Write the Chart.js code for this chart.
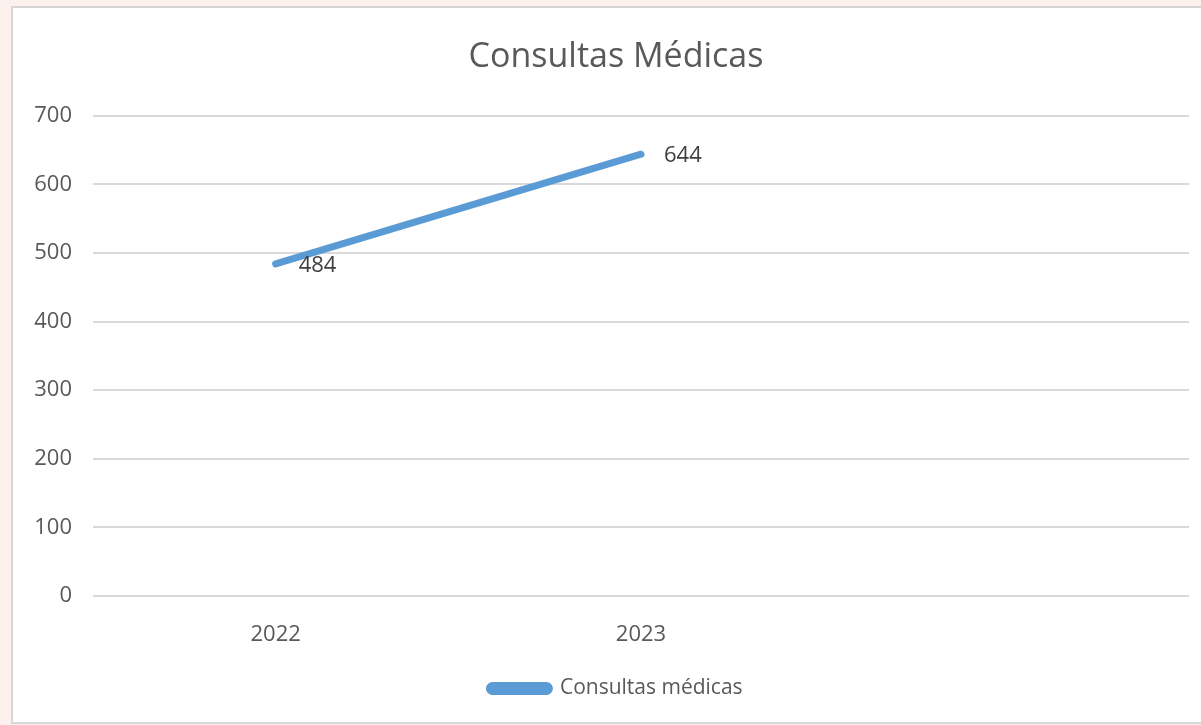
<!DOCTYPE html>
<html>
<head>
<meta charset="utf-8">
<script src="https://cdn.jsdelivr.net/npm/chart.js@4"></script>
<style>
    html, body { margin: 0; padding: 0; background: #fcf1ed; }
    #wrap { position: relative; width: 1201px; height: 725px; overflow: hidden; }
    #card {
        position: absolute; left: 11px; top: 6px; width: 1200px; height: 714px;
        background: #ffffff; border: 2px solid #d6d6d6; border-right: none;
    }
    #chart { position: absolute; left: 0; top: 0; }
</style>
</head>
<body>
<div id="wrap">
    <div id="card"></div>
    <canvas id="chart" width="1201" height="725"></canvas>
</div>
<script>
const years = ['2022', '2023', ''];
const consultas = [484, 644, null];
const yTicks = [0, 100, 200, 300, 400, 500, 600, 700];

const fontFamily = '"Open Sans", "Noto Sans", sans-serif';
const lineColor = '#5b9bd5';

// value labels next to each point
const pointLabels = {
    id: 'pointLabels',
    afterDatasetsDraw(chart) {
        const ctx = chart.ctx;
        const meta = chart.getDatasetMeta(0);
        ctx.save();
        ctx.font = '22px ' + fontFamily;
        ctx.fillStyle = '#404040';
        ctx.textAlign = 'left';
        ctx.textBaseline = 'middle';
        meta.data.forEach((pt, i) => {
            const v = consultas[i];
            if (v === null || v === undefined) return;
            ctx.fillText(String(v), pt.x + 23, pt.y + 2);
        });
        ctx.restore();
    }
};

// y tick labels drawn unclipped (the axis box is narrower than the labels)
const yLabels = {
    id: 'yLabels',
    afterDraw(chart) {
        const ctx = chart.ctx;
        const scale = chart.scales.y;
        ctx.save();
        ctx.font = '22px ' + fontFamily;
        ctx.fillStyle = '#595959';
        ctx.textAlign = 'right';
        ctx.textBaseline = 'middle';
        scale.ticks.forEach(t => {
            ctx.fillText(String(t.value), scale.right - 21, scale.getPixelForValue(t.value));
        });
        ctx.restore();
    }
};

const chart = new Chart(document.getElementById('chart'), {
    type: 'line',
    data: {
        labels: years,
        datasets: [{
            label: 'Consultas médicas',
            data: consultas,
            borderColor: lineColor,
            backgroundColor: lineColor,
            borderWidth: 7,
            borderCapStyle: 'round',
            borderRadius: 3,
            pointRadius: 0,
            pointHoverRadius: 0,
            fill: false,
            tension: 0
        }]
    },
    options: {
        responsive: false,
        animation: false,
        layout: { padding: { left: 43, right: 12, top: 0, bottom: 16 } },
        scales: {
            x: {
                offset: true,
                grid: { display: false },
                border: { display: false },
                afterFit: scale => { scale.height = 72; },
                ticks: { color: '#595959', font: { family: fontFamily, size: 22 }, padding: 18 }
            },
            y: {
                min: 0,
                max: 700,
                afterBuildTicks: scale => { scale.ticks = yTicks.map(v => ({ value: v })); },
                afterFit: scale => { scale.width = 50; },
                grid: { color: '#d9d9d9', lineWidth: 2, drawTicks: false },
                border: { display: false },
                ticks: { display: false }
            }
        },
        plugins: {
            title: {
                display: true,
                text: 'Consultas Médicas',
                color: '#595959',
                font: { family: fontFamily, size: 34, weight: 'normal' },
                padding: { top: 37, bottom: 38 }
            },
            legend: {
                position: 'bottom',
                labels: {
                    color: '#595959',
                    font: { family: fontFamily, size: 21 },
                    boxWidth: 60,
                    boxHeight: 6,
                    useBorderRadius: true,
                    borderRadius: 3,
                    padding: 10
                }
            },
            tooltip: { enabled: false }
        }
    },
    plugins: [pointLabels, yLabels]
});
</script>
</body>
</html>
